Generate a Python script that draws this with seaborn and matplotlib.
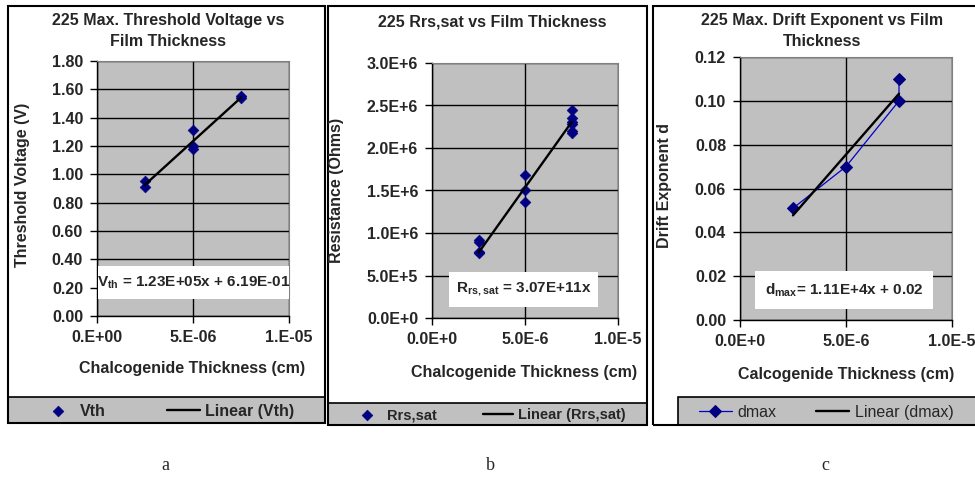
import matplotlib
matplotlib.use("Agg")
import matplotlib.pyplot as plt
from matplotlib.patches import Rectangle
import numpy as np
import pandas as pd
import seaborn as sns

# ---- data ----
vth_x = [2.5e-6, 2.5e-6, 5e-6, 5e-6, 5e-6, 7.5e-6, 7.5e-6]
vth_y = [0.95, 0.91, 1.31, 1.20, 1.18, 1.54, 1.55]
vth_fit = (1.23e5, 0.619)
vth_yticks = [0.0, 0.2, 0.4, 0.6, 0.8, 1.0, 1.2, 1.4, 1.6, 1.8]
vth_yticklabels = ["0.00", "0.20", "0.40", "0.60", "0.80", "1.00", "1.20", "1.40", "1.60", "1.80"]
vth_xticklabels = ["0.E+00", "5.E-06", "1.E-05"]

rrs_x = [2.5e-6, 2.5e-6, 2.5e-6, 2.5e-6, 5e-6, 5e-6, 5e-6,
         7.5e-6, 7.5e-6, 7.5e-6, 7.5e-6, 7.5e-6, 7.5e-6]
rrs_y = [0.92e6, 0.90e6, 0.78e6, 0.76e6, 1.68e6, 1.50e6, 1.37e6,
         2.45e6, 2.35e6, 2.30e6, 2.28e6, 2.20e6, 2.18e6]
rrs_fit = (3.07e11, 0.0)
rrs_yticks = [0, 0.5e6, 1.0e6, 1.5e6, 2.0e6, 2.5e6, 3.0e6]
rrs_yticklabels = ["0.0E+0", "5.0E+5", "1.0E+6", "1.5E+6", "2.0E+6", "2.5E+6", "3.0E+6"]

dmax_x = [2.5e-6, 5e-6, 7.5e-6, 7.5e-6]
dmax_y = [0.051, 0.070, 0.100, 0.110]
dmax_fit = (1.11e4, 0.02)
dmax_yticks = [0.0, 0.02, 0.04, 0.06, 0.08, 0.10, 0.12]
dmax_yticklabels = ["0.00", "0.02", "0.04", "0.06", "0.08", "0.10", "0.12"]

xticks = [0, 5e-6, 1e-5]
xticklabels_bc = ["0.0E+0", "5.0E-6", "1.0E-5"]

# ---- style ----
sns.set_style("white")
plt.rcParams['font.family'] = ['Liberation Sans', 'DejaVu Sans']
plt.rcParams['font.size'] = 11.5
plt.rcParams['font.weight'] = 'bold'
plt.rcParams['mathtext.fontset'] = 'custom'
plt.rcParams['mathtext.rm'] = 'Liberation Sans:bold'
plt.rcParams['mathtext.bf'] = 'Liberation Sans:bold'

W, H = 975, 486
NAVY = '#000080'
GREY = '#C0C0C0'


def fx(px):
    return px / W


def fy(py):
    return 1 - py / H


def box(x0, y0, x1, y1):
    return [fx(x0), fy(y1), fx(x1) - fx(x0), fy(y0) - fy(y1)]


fig = plt.figure(figsize=(9.75, 4.86), dpi=100)


def rect(x0, y0, x1, y1, **kw):
    fig.patches.append(Rectangle((fx(x0), fy(y1)), fx(x1) - fx(x0), fy(y0) - fy(y1),
                                 transform=fig.transFigure, **kw))


# outer frames of the three charts
for (x0, y0, x1, y1) in [(8, 6, 325, 423), (328, 6, 647, 425), (653, 6, 985, 425)]:
    rect(x0, y0, x1, y1, fill=False, edgecolor='black', lw=1.5, zorder=2)


def style_axes(ax, yticks, yticklabels, xticklabels):
    ax.set_facecolor(GREY)
    ax.set_xlim(0, 1e-5)
    ax.set_ylim(yticks[0], yticks[-1])
    ax.set_xticks(xticks)
    ax.set_xticklabels(xticklabels)
    ax.set_yticks(yticks)
    ax.set_yticklabels(yticklabels)
    ax.grid(True, color='black', lw=1.0)
    ax.set_axisbelow(True)
    for s in ['top', 'right']:
        ax.spines[s].set_visible(True)
        ax.spines[s].set_color('#808080')
    for s in ['left', 'bottom']:
        ax.spines[s].set_color('black')
        ax.spines[s].set_linewidth(1.0)
    ax.tick_params(direction='out', length=5, width=1, color='black', pad=5,
                   left=True, bottom=True)
    ax.set_xlabel('')
    ax.set_ylabel('')


def trend(xs, fit):
    xx = np.array([min(xs), max(xs)])
    return pd.DataFrame({'x': xx, 'y': fit[0] * xx + fit[1]})


def eq_box(x0, y0, x1, y1, text):
    # white label box given in figure pixels
    rect(x0, y0, x1, y1, facecolor='white', edgecolor='none', zorder=5)
    fig.text(fx((x0 + x1) / 2), fy((y0 + y1) / 2), text, ha='center', va='center',
             fontsize=11, fontweight='bold', zorder=6)


def legend(ax, frame, hx, colspace, bold=True, size=11.5):
    x0, y0, x1, y1 = frame
    # grey legend band drawn under the axes
    rect(x0, y0, x1, y1, facecolor=GREY, edgecolor='black', lw=1.2, zorder=-1)
    ax.legend(loc='center left', ncol=2, frameon=False,
              bbox_to_anchor=(fx(hx), fy((y0 + y1) / 2 + 1)),
              bbox_transform=fig.transFigure, borderpad=0, borderaxespad=0,
              handlelength=2.05, handletextpad=0.35, columnspacing=colspace,
              prop={'weight': 'bold' if bold else 'normal', 'size': size})


# ---- chart a ----
ax1 = fig.add_axes(box(97, 61, 289, 316))
df = pd.DataFrame({'x': vth_x, 'y': vth_y})
sns.scatterplot(data=df, x='x', y='y', ax=ax1, marker='D', s=30, color=NAVY,
                edgecolor=NAVY, label='Vth', zorder=3)
sns.lineplot(data=trend(vth_x, vth_fit), x='x', y='y', ax=ax1, color='black',
             lw=1.7, label='Linear (Vth)', zorder=4)
style_axes(ax1, vth_yticks, vth_yticklabels, vth_xticklabels)
legend(ax1, (8, 397, 325, 423), 42, 3.8)
fig.text(fx(168), fy(31), '225 Max. Threshold Voltage vs\nFilm Thickness', ha='center',
         va='center', linespacing=1.45)
fig.text(fx(192), fy(368), 'Chalcogenide Thickness (cm)', ha='center', va='center')
fig.text(fx(23), fy(185), 'Threshold Voltage (V)', ha='center', va='center', rotation=90)
eq_box(98, 266, 289, 299, r'$\mathbf{V}_{\mathbf{th}}$ = 1.23E+05x + 6.19E-01')

# ---- chart b ----
ax2 = fig.add_axes(box(432, 63, 618, 318))
df = pd.DataFrame({'x': rrs_x, 'y': rrs_y})
sns.scatterplot(data=df, x='x', y='y', ax=ax2, marker='D', s=30, color=NAVY,
                edgecolor=NAVY, label='Rrs,sat', zorder=3)
sns.lineplot(data=trend(rrs_x, rrs_fit), x='x', y='y', ax=ax2, color='black',
             lw=1.7, label='Linear (Rrs,sat)', zorder=4)
style_axes(ax2, rrs_yticks, rrs_yticklabels, xticklabels_bc)
legend(ax2, (328, 403, 647, 425), 352, 3.2, size=10.5)
fig.text(fx(492), fy(22), '225 Rrs,sat vs Film Thickness', ha='center', va='center')
fig.text(fx(524), fy(372), 'Chalcogenide Thickness (cm)', ha='center', va='center')
fig.text(fx(336), fy(190), 'Resistance (Ohms)', ha='center', va='center', rotation=90)
eq_box(449, 272, 598, 307, r'$\mathbf{R}_{\mathbf{rs,sat}}$ = 3.07E+11x')

# ---- chart c ----
ax3 = fig.add_axes(box(740, 57, 952, 320))
df = pd.DataFrame({'x': dmax_x, 'y': dmax_y})
sns.lineplot(data=df, x='x', y='y', ax=ax3, sort=False, estimator=None, color='#0000CC',
             lw=0.9, marker='D', markersize=6, markerfacecolor=NAVY,
             markeredgecolor=NAVY, label='dmax', zorder=3)
sns.lineplot(data=trend(dmax_x, dmax_fit), x='x', y='y', ax=ax3, color='black',
             lw=1.7, label='Linear (dmax)', zorder=4)
style_axes(ax3, dmax_yticks, dmax_yticklabels, xticklabels_bc)
legend(ax3, (678, 397, 985, 425), 699, 2.5, bold=False)
fig.text(fx(822), fy(31), '225 Max. Drift Exponent vs Film\nThickness', ha='center',
         va='center', linespacing=1.45)
fig.text(fx(846), fy(374), 'Calcogenide Thickness (cm)', ha='center', va='center')
fig.text(fx(665), fy(185), 'Drift Exponent d', ha='center', va='center', rotation=90)
eq_box(755, 271, 933, 309, r'$\mathbf{d}_{\mathbf{max}}$= 1.11E+4x + 0.02')

# panel letters
for lx, letter in [(165, 'a'), (490, 'b'), (825, 'c')]:
    fig.text(fx(lx), fy(465), letter, ha='center', va='center', fontsize=13,
             fontweight='normal', family='Liberation Serif')

fig.savefig("out.png", dpi=100)
